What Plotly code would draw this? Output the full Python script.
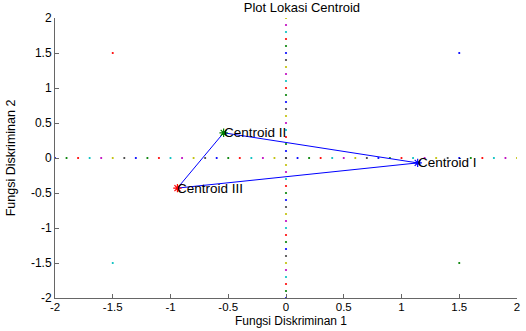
import plotly.graph_objects as go

# Data
grid_vals = [round(-2 + 0.1 * i, 1) for i in range(41)]
cycle_colors = ["#0000ff", "#008000", "#ff0000", "#00bfbf", "#bf00bf", "#bfbf00", "#404040"]
corner_x = [-1.5, 1.5, -1.5, 1.5]
corner_y = [1.5, 1.5, -1.5, -1.5]
corner_colors = ["#ff0000", "#0000ff", "#00bfbf", "#008000"]
centroid_names = ["Centroid I", "Centroid II", "Centroid III"]
centroid_x = [1.14, -0.54, -0.94]
centroid_y = [-0.07, 0.36, -0.43]
centroid_colors = ["#0000ff", "#008000", "#ff0000"]
tick_vals = [-2, -1.5, -1, -0.5, 0, 0.5, 1, 1.5, 2]
tick_text = ["-2", "-1.5", "-1", "-0.5", "0", "0.5", "1", "1.5", "2"]

FONT = "Liberation Sans, Arial"

fig = go.Figure()

dot_colors = [cycle_colors[i % 7] for i in range(len(grid_vals))]
fig.add_trace(go.Scatter(x=grid_vals, y=[0] * len(grid_vals), mode="markers",
                         marker=dict(size=2.2, color=dot_colors), hoverinfo="skip"))
fig.add_trace(go.Scatter(x=[0] * len(grid_vals), y=grid_vals, mode="markers",
                         marker=dict(size=2.2, color=dot_colors), hoverinfo="skip"))
fig.add_trace(go.Scatter(x=corner_x, y=corner_y, mode="markers",
                         marker=dict(size=2.2, color=corner_colors), hoverinfo="skip"))
fig.add_trace(go.Scatter(x=centroid_x + [centroid_x[0]], y=centroid_y + [centroid_y[0]],
                         mode="lines", line=dict(color="#0000ff", width=1)))
fig.add_trace(go.Scatter(x=centroid_x, y=centroid_y, mode="markers",
                         marker=dict(symbol="asterisk-open", size=7, color=centroid_colors,
                                     line=dict(color=centroid_colors, width=1.2))))

for name, cx, cy in zip(centroid_names, centroid_x, centroid_y):
    fig.add_annotation(x=cx, y=cy, text=name, showarrow=False, xanchor="left",
                       yanchor="middle", xshift=-2,
                       font=dict(family=FONT, size=13.5, color="black"))

# x-axis title
fig.add_annotation(x=0.511, y=1, xref="paper", yref="paper", yshift=-331 + 18 + 1,
                   text="Fungsi Diskriminan 1",
                   showarrow=False, xanchor="center", yanchor="bottom",
                   font=dict(family=FONT, size=12, color="black"))

axis_common = dict(range=[-2, 2], showgrid=False, zeroline=False, automargin=False,
                   showline=True, linecolor="#666666", linewidth=1,
                   ticks="inside", ticklen=4, tickcolor="#666666", mirror=False,
                   tickvals=tick_vals, ticktext=tick_text,
                   tickfont=dict(family=FONT, size=12, color="black"))

fig.update_layout(
    width=526, height=331,
    margin=dict(l=55, r=9, t=18, b=33),
    paper_bgcolor="white", plot_bgcolor="white",
    showlegend=False,
    title=dict(text="Plot Lokasi Centroid", x=0.574, xanchor="center", y=0.992, yanchor="top",
               font=dict(family=FONT, size=13, color="black")),
    xaxis=dict(**axis_common, ticklabelstandoff=-2,
               tickfont_size=11.5),
    yaxis=dict(**axis_common,
               title=dict(text="Fungsi Diskriminan 2", standoff=12,
                          font=dict(family=FONT, size=12.5, color="black"))),
)

fig.write_html("out.html")
